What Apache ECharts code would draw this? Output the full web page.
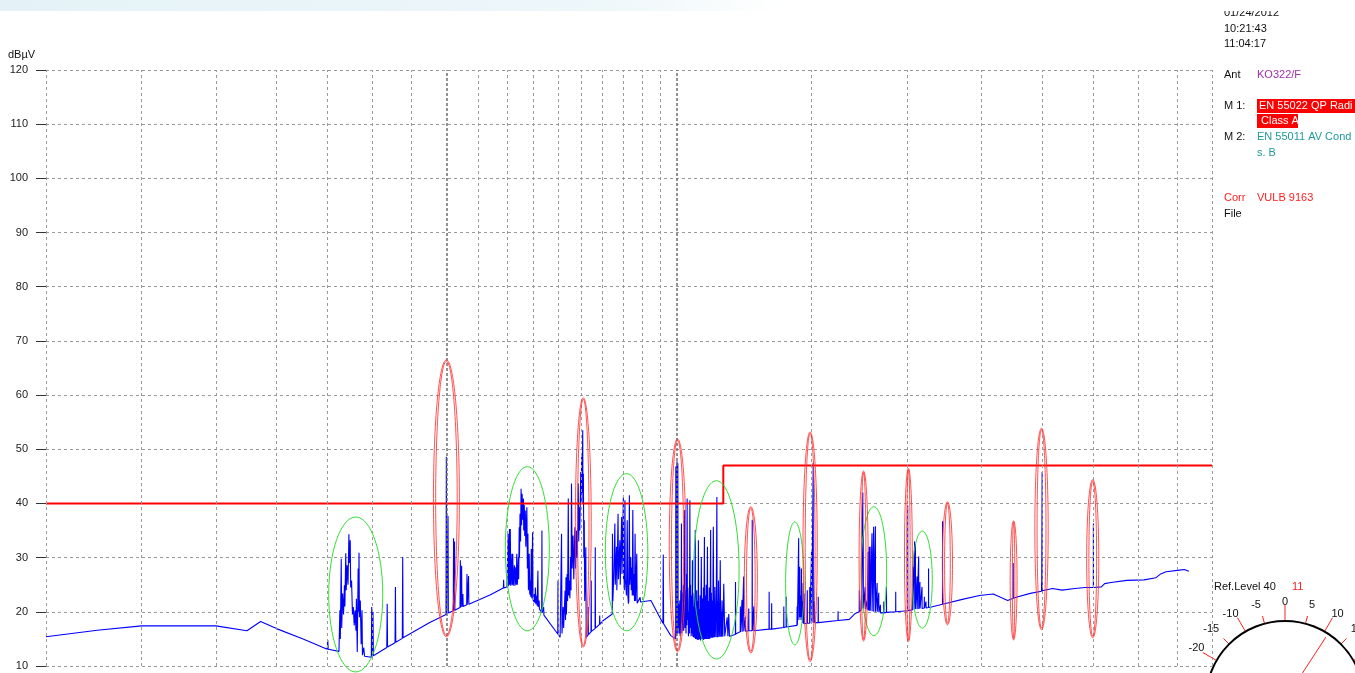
<!DOCTYPE html>
<html>
<head>
<meta charset="utf-8">
<title>EMI scan</title>
<script src="https://cdn.jsdelivr.net/npm/echarts@6/dist/echarts.min.js"></script>
<style>
  html, body { margin: 0; padding: 0; background: #ffffff; }
  #chart { width: 1355px; height: 673px; }
</style>
</head>
<body>
<div id="chart"></div>
<script>
// ---- measured spectrum (frequency in MHz, level in dBµV) ----
const traceBand1 = [
  [30,15.4],[35,16.6],[40,17.4],[50,17.4],[54.9,16.5],[57.2,18.2],[60,16.9],[65,15.0],[69.9,13.1],[70,14.8],[70.1,13.1],[72.4,12.7],
  [72.6,20.3],[72.7,15.0],[72.9,29.8],[73.0,17.0],[73.2,23.4],[73.4,19.5],[73.6,24.9],[73.7,21.0],[73.9,30.8],[74.0,24.0],[74.2,28.6],
  [74.4,25.0],[74.6,34.3],[74.7,29.0],[74.9,33.2],[75.0,24.5],[75.2,25.8],[75.4,19.5],[75.6,20.9],[75.8,17.5],[76.0,20.3],[76.2,16.5],
  [76.3,22.4],[76.5,12.6],[76.7,28.0],[76.8,20.0],[76.9,30.9],[77.0,19.0],[77.2,22.1],[77.4,14.0],[77.6,20.3],[77.7,12.0],[78.0,13.4],
  [78.2,11.8],[79.8,11.6],[79.9,20.9],[80.0,11.7],[80.2,20.0],[80.3,11.9],
  [83.6,13.4],[83.7,21.5],[83.8,13.5],[85.7,14.3],[85.8,24.6],[85.9,14.4],[87.6,15.1],[87.7,30.1],[87.8,15.2],[95,18.0],[99.9,19.5]
];
const traceBand2 = [
  [100.0,48.6],[100.1,19.6],[100.4,19.7],[100.5,37.7],[100.6,19.8],[102.1,20.2],[102.2,33.6],[102.3,20.2],[102.4,20.3],[102.5,33.0],
  [102.6,20.3],[104.2,20.8],[104.3,29.5],[104.4,20.8],[104.6,20.9],[104.7,28.5],[104.8,20.9],[105.0,21.0],[105.1,23.3],[105.2,21.0],
  [106.3,21.3],[106.4,27.0],[106.5,21.3],[106.8,21.4],[106.9,26.6],[107.0,21.4],[114,23.1],[118.7,24.4],[118.8,25.9],[118.9,24.4],[120.0,24.6],
  [120.4,34.4],[120.6,24.7],[120.9,35.3],[121.0,25.0],[121.2,35.3],[121.4,24.8],[121.8,30.7],[121.9,25.0],[122.1,30.7],[122.3,24.8],
  [122.7,28.6],[122.9,24.8],[123.2,28.2],[123.4,25.0],[123.6,30.7],[123.8,25.0],[124.2,30.1],[124.3,26.0],[124.5,35.6],[124.6,30.0],
  [124.8,38.1],[125.0,33.0],[125.2,42.7],[125.4,36.0],[125.6,41.8],[125.8,37.0],[126.1,40.9],[126.2,35.0],[126.4,39.7],[126.6,34.0],
  [126.8,38.7],[127.0,32.0],[127.4,39.3],[127.6,28.0],[127.8,34.4],[128.0,24.0],[128.3,30.7],[128.5,23.2],[128.7,25.8],[128.9,22.8],
  [129.1,31.6],[129.3,22.5],[129.6,34.7],[129.8,22.2],[130.2,21.8],[130.3,23.3],[130.5,21.7],[130.7,24.5],[130.9,21.4],[131.3,23.0],
  [131.4,21.1],[131.7,27.6],[131.8,20.9],[132.2,22.1],[132.3,20.5],[133.2,19.9],[133.3,35.0],[133.4,19.8],[134.0,20.9],[134.1,19.4],
  [139.8,15.9],[139.9,25.8],[140.0,15.8],[140.8,15.3],
  [141.3,15.5],[141.4,34.4],[141.6,16.0],[142.1,20.9],[142.3,17.0],[142.9,23.9],[143.1,18.5],[143.3,26.4],[143.5,19.5],[143.8,27.0],
  [144.0,22.0],[144.3,40.9],[144.5,23.0],[144.7,25.8],[145.0,22.5],[145.3,30.1],[145.5,24.0],[145.7,43.7],[146.0,28.0],[146.4,34.1],
  [146.7,26.0],[147.2,35.6],[147.5,28.0],[147.9,35.0],[148.2,30.0],[148.7,43.7],[148.9,33.0],[149.1,39.3],[149.4,35.0],[149.8,45.8],
  [150.0,40.0],[150.2,48.6],[150.4,42.0],[150.7,53.5],[150.8,40.0],[151.0,45.5],[151.2,30.0],[151.4,36.9],[151.6,22.0],[152.1,31.9],
  [152.3,15.3],[153.1,15.7],[153.2,20.9],[153.3,15.8],[154.5,16.3],[154.6,25.8],[154.7,16.4],[156.4,16.9],[156.5,31.9],[156.6,17.0],
  [158.5,17.7],[158.6,19.3],[158.7,17.7]
];
const traceBand3 = [
  [160.0,18.3],[164.7,19.6],[164.8,34.4],[165.0,22.0],[165.5,27.0],[166.0,36.3],[166.2,25.0],[166.8,32.0],[167.0,24.0],[167.6,38.1],
  [167.8,26.0],[168.5,33.2],[168.7,25.0],[169.4,37.5],[169.6,27.0],[170.3,41.2],[170.4,26.0],[170.6,27.0],[170.8,24.0],[171.1,40.6],
  [171.3,26.0],[171.6,25.8],[171.9,23.0],[172.3,36.9],[172.6,23.0],[172.9,21.5],[173.1,22.0],[173.4,41.5],[173.6,25.0],[174.1,30.1],
  [174.4,24.0],[174.7,28.2],[174.9,23.0],[175.2,38.8],[175.5,23.0],[175.9,27.0],[176.1,22.0],[176.4,34.4],[176.7,22.0],[177.0,21.8],
  [177.3,30.7],[177.5,21.6],[179.1,22.7],[179.3,21.8],[185.0,22.1],[191.8,17.9],[192.0,30.6],[192.2,17.8],[196.4,15.6],[199.3,15.0],
  [199.4,46.8],[199.6,15.5],[200.1,47.8],[200.3,16.0],[200.6,47.4],[200.8,17.0],[201.0,21.5],[201.3,16.0],[201.5,19.0],[201.8,22.1],
  [202.0,15.5],[202.4,24.0],[202.6,16.0],[202.8,36.3],[203.0,18.0],[203.2,23.5],[203.5,16.5],[203.8,19.6],[204.0,25.0],[204.2,16.5],
  [204.5,21.0],[204.8,38.8],[205.0,17.0],[205.2,24.0],[205.4,23.3],[205.6,16.0],[205.9,27.0],[206.1,17.5],[206.3,40.9],[206.5,18.5],
  [206.7,24.5],[206.9,22.1],[207.1,15.5],[207.4,20.0],[207.7,16.0],[208.0,40.6],[208.2,17.0],[208.4,25.0],[208.6,19.6],[208.8,15.5],
  [209.1,23.0],[209.3,16.0],[209.6,29.5],[209.8,15.5],[210.0,21.0],[210.2,15.3],[210.4,18.4],[210.7,23.5],[210.9,15.2],[211.1,20.0],
  [211.4,35.1],[211.6,15.0],[211.9,21.5],[212.1,15.0],[212.3,24.0],[212.5,17.8],[212.7,14.8],[213.0,22.0],[213.2,15.0],[213.4,33.2],
  [213.6,14.8],[213.9,20.5],[214.1,15.0],[214.3,15.9],[214.5,23.0],[214.8,14.7],[215.0,19.0],[215.3,30.1],[215.5,15.0],[215.8,22.5],
  [216.0,15.0],[216.4,17.1],[216.6,24.5],[216.8,14.8],[217.0,20.0],[217.3,33.8],[217.5,15.0],[217.8,23.0],[218.0,15.0],[218.2,19.6],
  [218.5,25.0],[218.7,15.0],[219.0,21.0],[219.3,32.0],[219.5,15.0],[219.8,22.0],[220.0,15.0],[220.2,15.9],[220.5,24.5],[220.8,15.0],
  [221.1,20.5],[221.4,35.1],[221.6,15.2],[221.9,23.5],[222.1,15.2],[222.3,22.1],[222.6,18.0],[222.8,15.2],[223.0,26.0],[223.2,35.7],
  [223.5,15.3],[223.8,21.0],[224.0,15.3],[224.2,24.6],[224.5,19.0],[224.9,15.3],[225.2,23.0],[225.6,41.2],[225.8,15.3],[226.1,22.0],
  [226.4,15.3],[226.7,25.8],[227.0,18.0],[227.3,15.4],[227.6,21.0],[227.9,29.5],[228.2,15.4],[228.5,20.0],[228.8,15.4],[229.1,22.1],
  [229.4,17.0],[229.7,15.4]
];
const traceBand4 = [
  [230.3,25.2],[231.0,15.5],[232.7,19.0],[233.2,15.5],[233.8,19.6],[234.3,15.5],[238.5,15.8],[238.6,25.5],[238.7,15.9],[242.0,16.3],
  [242.1,21.0],[242.2,16.3],[243.2,16.3],[243.3,22.2],[243.4,16.3],[244.4,16.4],[244.5,26.5],[244.6,16.4],[245.7,16.4],[245.8,19.1],
  [245.9,16.4],[248.2,16.5],[248.3,20.6],[248.4,16.5],[250.8,16.5],[250.9,37.0],[251.0,16.5],[252.0,16.5],[252.1,21.0],[252.2,16.5],
  [263.9,16.8],[264.0,23.7],[264.1,16.8],[265.9,16.8],[266.0,21.6],[266.1,16.8],[275.8,17.1],[275.9,21.0],[276.0,17.1],[277.8,17.2],
  [277.9,22.8],[278.0,17.2],[287.0,17.5],[287.2,21.0],[287.4,17.5],[288.0,17.6],[288.5,33.6],[288.7,18.5],[289.4,28.3],[289.6,19.0],
  [290.3,23.0],[290.6,18.5],[290.9,28.0],[291.1,19.0],[291.7,22.0],[292.0,18.0],[292.4,25.3],[292.7,17.8],[293.3,23.4],[293.5,17.8],
  [296.0,17.9],[296.1,24.0],[296.2,17.9],[298.2,17.9],[298.3,24.6],[298.4,17.9],[299.8,17.9],[299.9,31.1],[300.1,18.0],[301.3,18.0],
  [301.4,47.5],[301.5,18.0],[302.5,18.0],[302.6,22.0],[302.7,18.0],[305.9,18.0],[306.0,22.8],[306.1,18.0],[324.7,18.4],[324.8,20.1],
  [324.9,18.4],[336.0,18.6],[342.0,19.7],[346.1,20.0],[346.2,24.0],[346.3,20.0],[348.0,20.4],[348.1,22.0],[348.2,20.4],[349.8,20.6],
  [349.9,42.0],[350.1,20.6],[350.3,35.0],[350.5,20.6],[352.3,20.5],[352.4,24.6],[352.5,20.5],[354.2,20.4],[354.3,22.0],[354.4,20.4],
  [355.5,20.3],[355.6,31.1],[355.7,20.3],[356.5,20.2],[356.6,32.0],[356.7,20.2],[357.6,20.2],[357.7,32.0],[357.8,20.2],[359.6,20.1],
  [359.7,34.5],[359.8,20.1],[361.4,20.0],[361.5,35.7],[361.6,20.0],[363.3,20.0],[363.4,35.8],[363.5,20.0],[365.2,20.0],[365.3,25.3],
  [365.4,20.0],[367.0,19.9],[367.1,23.5],[367.2,19.9],[368.8,19.8],[368.9,21.3],[369.0,19.8],[372.6,19.8],[372.7,21.9],[372.8,19.8],
  [375.6,19.9],[375.7,24.6],[375.8,19.9],[386.2,20.0],[386.3,23.7],[386.4,20.0],[400.4,20.2],[400.5,39.6],[400.6,20.2],[406.5,20.4],
  [406.6,28.3],[406.7,20.4],[408.8,20.4],[408.9,33.0],[409.0,20.5],[409.8,20.5],[409.9,32.5],[410.0,20.5],[411.8,20.5],[411.9,26.5],
  [412.0,20.5],[413.8,20.5],[413.9,30.2],[414.0,20.5],[415.4,20.6],[415.5,25.5],[415.6,20.6],[418.0,20.6],[418.1,24.6],[418.2,20.6],
  [420.9,20.7],[421.0,22.8],[421.1,20.7],[423.0,20.7],[423.1,21.9],[423.2,20.7],[426.3,20.8],[426.4,28.0],[426.5,20.8]
];
const traceBand5 = [
  [430,20.9],[444.6,21.4],[444.7,36.7],[444.8,21.4],[469,22.2],[497,23.0],[518,23.3],[525,22.9],[541,22.1],[549.9,22.5],[550.0,29.0],
  [550.1,22.5],[555,22.7],[579,23.4],[598.9,23.8],[599.0,25.3],[599.2,23.9],[599.9,23.9],[600.0,45.8],[600.1,23.9],[619,24.3],[620,24.6],
  [621,24.3],[637,24.0],[662,24.3],[683,24.5],[699.9,24.5],[700.0,36.3],[700.1,24.5],[717,24.6],[724,25.2],[738,25.4],[774,25.8],
  [815,25.9],[845,26.3],[857,27.0],[871,27.4],[907,27.7],[920,27.8],[933,27.5]
];

// ---- limit line M1 (EN 55022 class A) ----
const limitFreqs  = [30, 230, 230, 1000];
const limitLevels = [40, 40, 47, 47];

// ---- flagged emissions: [fLow, fHigh, levelTop, levelBottom] ----
const greenMarks = [
  [70.2, 82.6, 37.5, 8.9], [119.4, 136.3, 46.8, 16.5], [161.3, 183.3, 45.5, 16.5], [210.4, 241.2, 44.2, 11.3],
  [277.4, 293.2, 36.6, 13.9], [348.0, 375.9, 39.4, 15.6], [406.1, 431.2, 34.9, 17.0]
];
const redMarks = [
  [96.2, 104.0, 66.5, 15.4], [147.4, 154.6, 59.5, 13.5], [195.5, 205.5, 51.9, 12.6], [245.0, 254.8, 39.4, 12.4],
  [292.3, 305.1, 53.2, 10.8], [346.0, 355.5, 46.0, 14.6], [396.6, 406.1, 46.5, 14.5], [444.5, 458.2, 40.3, 17.6],
  [545.0, 556.4, 36.8, 14.8], [587.0, 611.0, 53.9, 16.7], [686.0, 711.5, 44.4, 15.2]
];

// ---- axis grid ----
const gridFreqs = [30,40,50,60,70,80,90,100,110,120,130,140,150,160,170,180,190,200,300,400,500,600,700,800,900,1000];
const accentFreqs = [100, 200];
const levelMin = 10, levelMax = 120, levelStep = 10;

// ---- reference level dial ----
const refLevel = 40;
const dialValue = 11;
const dialMin = -20, dialMax = 20;

const FONT = "'Liberation Sans', Arial, sans-serif";
const trace = [].concat(traceBand1, traceBand2, traceBand3, traceBand4, traceBand5);
const limitData = limitFreqs.map((f, i) => [f, limitLevels[i]]);

// outline of a flagged emission, spanning its frequency/level box
function ellipseRenderer(color, doubled) {
  return function (params, api) {
    const p1 = api.coord([api.value(0), api.value(2)]);
    const p2 = api.coord([api.value(1), api.value(3)]);
    const cx = (p1[0] + p2[0]) / 2, cy = (p1[1] + p2[1]) / 2;
    const rx = Math.abs(p2[0] - p1[0]) / 2, ry = Math.abs(p2[1] - p1[1]) / 2;
    const children = [{
      type: 'ellipse', shape: { cx, cy, rx, ry },
      style: { fill: 'none', stroke: color, lineWidth: 1 }
    }];
    if (doubled) {
      children.push({
        type: 'ellipse', shape: { cx, cy, rx: Math.max(rx - 2.2, 1), ry: Math.max(ry - 1.5, 1) },
        style: { fill: 'none', stroke: color, lineWidth: 1 }
      });
    }
    return { type: 'group', children };
  };
}

const chart = echarts.init(document.getElementById('chart'), null, { renderer: 'canvas' });

const gridLineStyle = { type: [3, 3], color: '#9a9a9a', width: 1 };

chart.setOption({
  animation: false,
  backgroundColor: '#ffffff',
  textStyle: { fontFamily: FONT },
  grid: { left: 46, right: 143, top: 70, bottom: 7, containLabel: false },
  xAxis: {
    type: 'log', logBase: 10, min: 30, max: 1000,
    axisLine: { show: false }, axisTick: { show: false }, axisLabel: { show: false }, splitLine: { show: false }
  },
  yAxis: {
    type: 'value', min: levelMin, max: levelMax, interval: levelStep,
    axisLine: { show: false },
    axisTick: { show: true, length: 10, lineStyle: { color: '#333333', width: 1 } },
    axisLabel: { margin: 18, color: '#222222', fontSize: 11, fontFamily: FONT },
    splitLine: { show: true, lineStyle: gridLineStyle }
  },
  polar: [
    { center: [1285, 700], radius: 79 },
    { center: [1285, 700], radius: 79 },
    { center: [1285, 700], radius: 79 }
  ],
  angleAxis: [
    { polarIndex: 0, type: 'value', min: 0, max: 360, startAngle: 90,
      axisLine: { lineStyle: { color: '#000000', width: 2 } },
      axisTick: { show: false }, axisLabel: { show: false }, splitLine: { show: false } },
    { polarIndex: 1, type: 'value', min: dialMin, max: dialMax, startAngle: 150, endAngle: 30, interval: 10,
      axisLine: { show: false },
      axisTick: { show: true, length: 16, lineStyle: { color: '#ff2020', width: 1 } },
      minorTick: { show: true, splitNumber: 2, length: 8, lineStyle: { color: '#ff2020', width: 1 } },
      axisLabel: { show: false }, splitLine: { show: false } },
    { polarIndex: 2, type: 'value', min: dialMin, max: dialMax, startAngle: 150, endAngle: 30, interval: 5,
      axisLine: { show: false }, axisTick: { show: false }, splitLine: { show: false },
      axisLabel: { show: true, margin: 14, color: '#111111', fontSize: 11, fontFamily: FONT } }
  ],
  radiusAxis: [
    { polarIndex: 0, show: false },
    { polarIndex: 1, min: 0, max: 79, show: false },
    { polarIndex: 2, show: false }
  ],
  series: [
    {
      name: 'grid', type: 'line', data: [], z: 1, silent: true,
      markLine: {
        silent: true, symbol: ['none', 'none'], label: { show: false }, animation: false,
        lineStyle: gridLineStyle,
        data: gridFreqs.map(f => accentFreqs.includes(f)
          ? { xAxis: f, lineStyle: { type: [3, 2], color: '#6e6e6e', width: 1.5 } }
          : { xAxis: f })
      }
    },
    {
      name: 'Trace', type: 'line', data: trace, z: 3,
      symbol: 'none', sampling: null, clip: true,
      lineStyle: { color: '#0000ff', width: 1.1 }
    },
    {
      name: 'M1 limit', type: 'line', data: limitData, z: 4,
      symbol: 'none', lineStyle: { color: '#ff0000', width: 2 }
    },
    {
      name: 'green marks', type: 'custom', data: greenMarks, z: 5, silent: true, clip: false,
      encode: { x: [0, 1], y: [2, 3] },
      renderItem: ellipseRenderer('rgba(40,220,40,0.95)', false)
    },
    {
      name: 'red marks', type: 'custom', data: redMarks, z: 5, silent: true, clip: false,
      encode: { x: [0, 1], y: [2, 3] },
      renderItem: ellipseRenderer('rgba(255,50,50,0.85)', true)
    },
    {
      name: 'dial needle', type: 'line', coordinateSystem: 'polar', polarIndex: 1,
      data: [[0, dialValue], [75, dialValue]], symbol: 'none', z: 6, silent: true,
      lineStyle: { color: '#ff2020', width: 1 }
    }
  ],
  graphic: [
    { type: 'rect', z: 0, shape: { x: 0, y: 0, width: 1355, height: 11 },
      style: { fill: new echarts.graphic.LinearGradient(0, 0, 1, 0, [
        { offset: 0, color: '#e4f2f7' }, { offset: 0.45, color: '#eef7fa' }, { offset: 0.58, color: '#ffffff' }, { offset: 1, color: '#ffffff' }
      ]) } },
    { type: 'text', z: -1, style: { text: '01/24/2012', x: 1224, y: 13, fill: '#111', font: '11px ' + FONT, verticalAlign: 'middle' } },
    { type: 'text', style: { text: '10:21:43', x: 1224, y: 29, fill: '#111', font: '11px ' + FONT, verticalAlign: 'middle' } },
    { type: 'text', style: { text: '11:04:17', x: 1224, y: 44, fill: '#111', font: '11px ' + FONT, verticalAlign: 'middle' } },
    { type: 'text', style: { text: 'dBµV', x: 8, y: 55, fill: '#111', font: '11px ' + FONT, verticalAlign: 'middle' } },
    { type: 'text', style: { text: 'Ant', x: 1224, y: 75, fill: '#111', font: '11px ' + FONT, verticalAlign: 'middle' } },
    { type: 'text', style: { text: 'KO322/F', x: 1257, y: 75, fill: '#a030a8', font: '11px ' + FONT, verticalAlign: 'middle' } },
    { type: 'text', style: { text: 'M 1:', x: 1224, y: 106, fill: '#111', font: '11px ' + FONT, verticalAlign: 'middle' } },
    { type: 'rect', shape: { x: 1257, y: 99, width: 98, height: 14 }, style: { fill: '#ff0000' } },
    { type: 'text', style: { text: 'EN 55022 QP Radi', x: 1259, y: 106, fill: '#ffffff', font: '11px ' + FONT, verticalAlign: 'middle' } },
    { type: 'rect', shape: { x: 1257, y: 114, width: 41, height: 14 }, style: { fill: '#ff0000' } },
    { type: 'text', style: { text: 'Class A', x: 1261, y: 121, fill: '#ffffff', font: '11px ' + FONT, verticalAlign: 'middle' } },
    { type: 'text', style: { text: 'M 2:', x: 1224, y: 137, fill: '#111', font: '11px ' + FONT, verticalAlign: 'middle' } },
    { type: 'text', style: { text: 'EN 55011 AV Cond', x: 1257, y: 137, fill: '#1f9a9a', font: '11px ' + FONT, verticalAlign: 'middle' } },
    { type: 'text', style: { text: 's. B', x: 1257, y: 153, fill: '#1f9a9a', font: '11px ' + FONT, verticalAlign: 'middle' } },
    { type: 'text', style: { text: 'Corr', x: 1224, y: 198, fill: '#ff2020', font: '11px ' + FONT, verticalAlign: 'middle' } },
    { type: 'text', style: { text: 'VULB 9163', x: 1257, y: 198, fill: '#ff2020', font: '11px ' + FONT, verticalAlign: 'middle' } },
    { type: 'text', style: { text: 'File', x: 1224, y: 214, fill: '#111', font: '11px ' + FONT, verticalAlign: 'middle' } },
    { type: 'text', style: { text: 'Ref.Level ' + refLevel, x: 1214, y: 587, fill: '#111', font: '11px ' + FONT, verticalAlign: 'middle' } },
    { type: 'text', style: { text: String(dialValue), x: 1292, y: 587, fill: '#ff2020', font: '11px ' + FONT, verticalAlign: 'middle' } }
  ]
});
</script>
</body>
</html>
